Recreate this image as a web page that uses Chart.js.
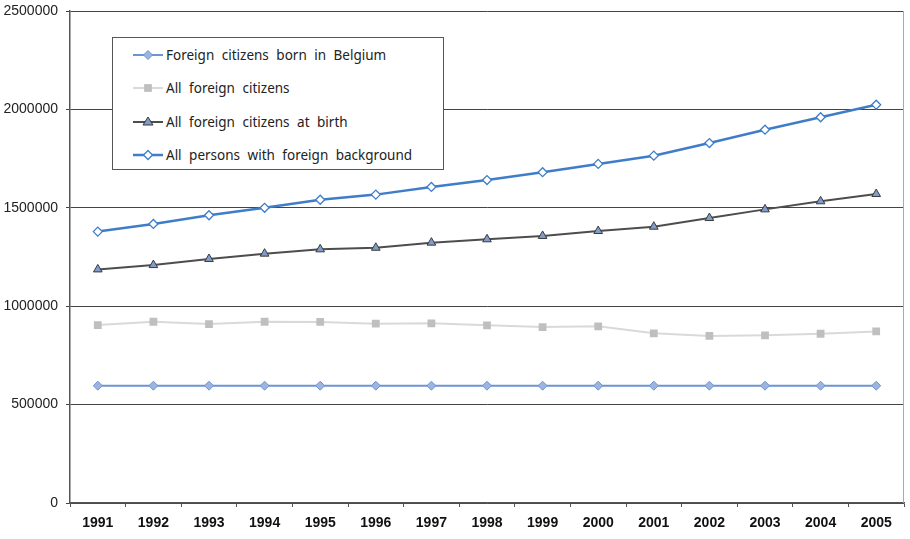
<!DOCTYPE html>
<html>
<head>
<meta charset="utf-8">
<script src="https://cdn.jsdelivr.net/npm/chart.js@4/dist/chart.umd.min.js"></script>
<style>
  html,body{margin:0;padding:0;background:#fff;}
  #wrap{position:relative;width:910px;height:539px;}
  #legend{position:absolute;left:112px;top:37px;width:330px;height:131px;border:1px solid #555;background:#fff;
    font-family:"Noto Sans",sans-serif;font-size:13.5px;color:#222;word-spacing:4px;}
  .row{position:absolute;left:20px;height:20px;display:flex;align-items:center;}
  .row svg{margin-right:3px;}
</style>
</head>
<body>
<div id="wrap">
  <canvas id="c" width="910" height="539"></canvas>
  <div id="legend"></div>
</div>
<script>
const years = ["1991","1992","1993","1994","1995","1996","1997","1998","1999","2000","2001","2002","2003","2004","2005"];
const yTicks = [0, 500000, 1000000, 1500000, 2000000, 2500000];
const seriesNames = ["Foreign citizens born in Belgium","All foreign citizens","All foreign citizens at birth","All persons with foreign background"];
const bornInBelgium = [596000,596000,596000,596000,596000,596000,596000,596000,596000,596000,596000,596000,596000,596000,596000];
const allForeignCitizens = [904000,921000,909000,921000,920000,911000,913000,903000,894000,898000,862000,849000,852000,860000,872000];
const foreignAtBirth = [1187000,1209000,1240000,1267000,1289000,1297000,1323000,1340000,1357000,1382000,1404000,1448000,1492000,1533000,1570000];
const foreignBackground = [1379000,1418000,1462000,1500000,1541000,1567000,1606000,1641000,1681000,1723000,1765000,1829000,1897000,1960000,2024000];

const styles = [
  {border:"#6d94d2", fill:"#9db4df", pointStyle:"rectRot", r:4.5, lw:2, pbw:1, pbc:"#6d94d2"},
  {border:"#d9d9d9", fill:"#bfbfbf", pointStyle:"rect", r:5.5, lw:2, pbw:0, pbc:"#bfbfbf"},
  {border:"#4d4d4d", fill:"#7f9ccb", pointStyle:"triangle", r:5, lw:2, pbw:1, pbc:"#3a3a3a"},
  {border:"#3f7dc9", fill:"#ffffff", pointStyle:"rectRot", r:4.5, lw:2.5, pbw:1.3, pbc:"#3f7dc9"}
];
const values = [bornInBelgium, allForeignCitizens, foreignAtBirth, foreignBackground];

const datasets = values.map((v,i)=>({
  label: seriesNames[i],
  data: v,
  borderColor: styles[i].border,
  backgroundColor: styles[i].fill,
  borderWidth: styles[i].lw,
  pointStyle: styles[i].pointStyle,
  pointRadius: styles[i].r,
  pointHoverRadius: styles[i].r,
  pointBackgroundColor: styles[i].fill,
  pointBorderColor: styles[i].pbc,
  pointBorderWidth: styles[i].pbw,
  tension: 0,
  fill: false
}));

const rightBorder = {
  id:'rightBorder',
  afterDraw(chart){
    const {ctx, chartArea:a} = chart;
    ctx.save();
    ctx.strokeStyle = '#aaaaaa';
    ctx.lineWidth = 1;
    ctx.beginPath();
    ctx.moveTo(a.right-0.5, a.top);
    ctx.lineTo(a.right-0.5, a.bottom);
    ctx.stroke();
    ctx.restore();
  }
};

new Chart(document.getElementById('c'), {
  type:'line',
  data:{labels:years, datasets},
  options:{
    responsive:false,
    animation:false,
    layout:{padding:{top:11,right:1,left:0,bottom:0}},
    plugins:{legend:{display:false}, tooltip:{enabled:false}},
    scales:{
      x:{
        offset:true,
        grid:{offset:true, drawOnChartArea:false, drawTicks:true, tickLength:4, color:'#555'},
        border:{color:'#555', width:1.5},
        ticks:{font:{family:'"Liberation Sans", Arial, sans-serif', size:14, weight:'bold'}, color:'#111', padding:8, maxRotation:0},
        afterFit(s){ s.height = 36; s.paddingLeft = 0; s.paddingRight = 0; }
      },
      y:{
        min:0, max:2500000,
        afterBuildTicks(s){ s.ticks = yTicks.map(v=>({value:v})); },
        grid:{color:'#444', tickLength:4, lineWidth:1},
        border:{color:'#555', width:1.5},
        ticks:{font:{family:'"Liberation Sans", Arial, sans-serif', size:14}, color:'#222', padding:8,
          callback:(v)=>String(v)},
        afterFit(s){ s.width = 70; s.paddingTop = 0; s.paddingBottom = 0; }
      }
    }
  },
  plugins:[rightBorder]
});

// HTML legend
const legend = document.getElementById('legend');
const rowTops = [7, 40, 74, 107];
seriesNames.forEach((name,i)=>{
  const st = styles[i];
  const row = document.createElement('div');
  row.className='row';
  row.style.top = rowTops[i]+'px';
  let marker='';
  if(st.pointStyle==='rectRot'){
    marker = `<polygon points="15,${10-st.r} ${15+st.r},10 15,${10+st.r} ${15-st.r},10" fill="${st.fill}" stroke="${st.pbc}" stroke-width="${st.pbw}"/>`;
  } else if(st.pointStyle==='rect'){
    const h=st.r*0.707;
    marker = `<rect x="${15-h}" y="${10-h}" width="${2*h}" height="${2*h}" fill="${st.fill}"/>`;
  } else {
    marker = `<polygon points="15,5 20,13 10,13" fill="${st.fill}" stroke="${st.pbc}" stroke-width="${st.pbw}"/>`;
  }
  row.innerHTML = `<svg width="30" height="20"><line x1="0" y1="10" x2="30" y2="10" stroke="${st.border}" stroke-width="${st.lw}"/>${marker}</svg><span>${name}</span>`;
  legend.appendChild(row);
});
</script>
</body>
</html>
